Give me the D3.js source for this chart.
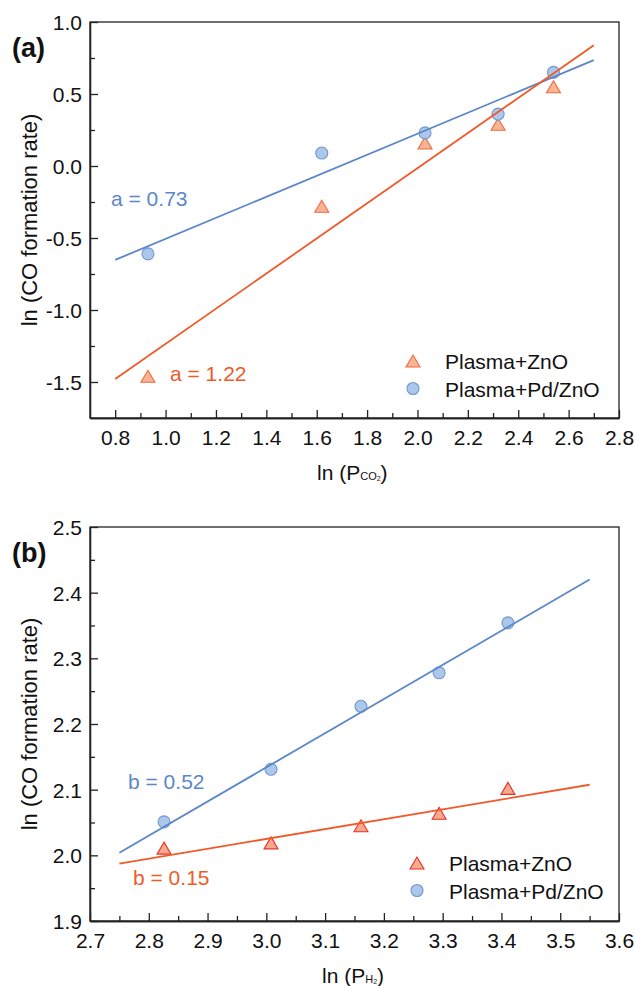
<!DOCTYPE html>
<html>
<head>
<meta charset="utf-8">
<script src="https://cdn.jsdelivr.net/npm/d3@7"></script>
<style>
  html, body { margin: 0; padding: 0; background: #fff; }
  svg { display: block; font-family: "Liberation Sans", Arial, sans-serif; }
</style>
</head>
<body>
<svg id="chart" width="635" height="986"></svg>
<script>
// ---- Panel (a): CO formation rate vs CO2 partial pressure ----
const aX = [0.93, 1.62, 2.03, 2.32, 2.54];
const aZnO = [-1.46, -0.28, 0.16, 0.29, 0.55];
const aPdZnO = [-0.61, 0.09, 0.23, 0.36, 0.65];
const aFitZnO = { slope: 1.22, intercept: -2.455, from: 0.8, to: 2.7 };
const aFitPdZnO = { slope: 0.73, intercept: -1.236, from: 0.8, to: 2.7 };
const aXTicks = [0.8, 1.0, 1.2, 1.4, 1.6, 1.8, 2.0, 2.2, 2.4, 2.6, 2.8];
const aYTicks = [-1.5, -1.0, -0.5, 0.0, 0.5, 1.0];

// ---- Panel (b): CO formation rate vs H2 partial pressure ----
const bX = [2.826, 3.008, 3.161, 3.294, 3.411];
const bZnO = [2.011, 2.019, 2.045, 2.064, 2.102];
const bPdZnO = [2.051, 2.131, 2.227, 2.278, 2.354];
const bFitZnO = { slope: 0.15, intercept: 1.575, from: 2.75, to: 3.55 };
const bFitPdZnO = { slope: 0.52, intercept: 0.574, from: 2.75, to: 3.55 };
const bXTicks = [2.7, 2.8, 2.9, 3.0, 3.1, 3.2, 3.3, 3.4, 3.5, 3.6];
const bYTicks = [1.9, 2.0, 2.1, 2.2, 2.3, 2.4, 2.5];

const seriesNames = ["Plasma+ZnO", "Plasma+Pd/ZnO"];

const BLUE_LINE = "#5b87c9";
const BLUE_FILL = "#adc7ea";
const BLUE_STROKE = "#6f97d2";
const ORANGE_LINE = "#f05a28";
const FONT = 21;

const svg = d3.select("#chart");
const fmt1 = d => d3.format(".1f")(d).replace("\u2212", "-");

function trianglePath(w, h) {
  return `M0,${-h / 2}L${w / 2},${h / 2}L${-w / 2},${h / 2}Z`;
}

function drawPanel(cfg) {
  const g = svg.append("g");
  const x = d3.scaleLinear().domain(cfg.xDomain).range([90, 619]);
  const y = d3.scaleLinear().domain(cfg.yDomain).range([cfg.bottom, cfg.top]);

  // frame
  g.append("rect")
    .attr("x", 90).attr("y", cfg.top)
    .attr("width", 529).attr("height", cfg.bottom - cfg.top)
    .attr("fill", "none").attr("stroke", "#222").attr("stroke-width", 1.3);

  // bottom axis: major ticks inward with labels, minor ticks between
  const xAxis = d3.axisBottom(x).tickValues(cfg.xTicks)
    .tickSizeInner(-8).tickSizeOuter(0).tickPadding(12)
    .tickFormat(fmt1);
  const gx = g.append("g").attr("transform", `translate(0,${cfg.bottom})`).call(xAxis);
  const xMinor = d3.axisBottom(x).tickValues(cfg.xMinor)
    .tickSizeInner(-5).tickSizeOuter(0).tickFormat("");
  const gxm = g.append("g").attr("transform", `translate(0,${cfg.bottom})`).call(xMinor);

  const yAxis = d3.axisLeft(y).tickValues(cfg.yTicks)
    .tickSizeInner(-8).tickSizeOuter(0).tickPadding(8)
    .tickFormat(fmt1);
  const gy = g.append("g").attr("transform", "translate(90,0)").call(yAxis);
  const yMinor = d3.axisLeft(y).tickValues(cfg.yMinor)
    .tickSizeInner(-5).tickSizeOuter(0).tickFormat("");
  const gym = g.append("g").attr("transform", "translate(90,0)").call(yMinor);

  [gx, gxm, gy, gym].forEach(a => {
    a.select(".domain").attr("stroke", "#222").attr("stroke-width", 1.3);
    a.selectAll(".tick line").attr("stroke", "#222").attr("stroke-width", 1.3);
    a.selectAll(".tick text")
      .attr("font-size", FONT).attr("fill", "#111")
      .attr("font-family", '"Liberation Sans", Arial, sans-serif');
  });
  gy.selectAll(".tick text").attr("dy", "0.36em");

  // markers: ZnO triangles, Pd/ZnO circles
  const pts = cfg.x.map((v, i) => ({ x: v, zno: cfg.zno[i], pd: cfg.pd[i] }));
  g.append("g").selectAll("path").data(pts).join("path")
    .attr("d", trianglePath(14, 12))
    .attr("transform", d => `translate(${x(d.x)},${y(d.zno)})`)
    .attr("fill", cfg.triFill).attr("stroke", cfg.triStroke).attr("stroke-width", 1.1);
  g.append("g").selectAll("circle").data(pts).join("circle")
    .attr("cx", d => x(d.x)).attr("cy", d => y(d.pd)).attr("r", 6)
    .attr("fill", BLUE_FILL).attr("stroke", BLUE_STROKE).attr("stroke-width", 1.1);

  // linear fits
  [[cfg.fitPd, BLUE_LINE], [cfg.fitZnO, ORANGE_LINE]].forEach(([fit, col]) => {
    const ends = [fit.from, fit.to];
    g.append("line")
      .attr("x1", x(ends[0])).attr("y1", y(fit.slope * ends[0] + fit.intercept))
      .attr("x2", x(ends[1])).attr("y2", y(fit.slope * ends[1] + fit.intercept))
      .attr("stroke", col).attr("stroke-width", 1.8);
  });

  // slope annotations
  g.append("text").attr("x", cfg.pdLabel[0]).attr("y", cfg.pdLabel[1])
    .attr("font-size", FONT).attr("fill", BLUE_LINE).text(cfg.pdLabel[2]);
  g.append("text").attr("x", cfg.znoLabel[0]).attr("y", cfg.znoLabel[1])
    .attr("font-size", FONT).attr("fill", ORANGE_LINE).text(cfg.znoLabel[2]);

  // legend
  const lg = g.append("g").attr("transform", `translate(${cfg.legend[0]},${cfg.legend[1]})`);
  lg.append("path").attr("d", trianglePath(14, 12))
    .attr("fill", cfg.triFill).attr("stroke", cfg.triStroke).attr("stroke-width", 1.1);
  lg.append("circle").attr("cx", 0).attr("cy", 27.5).attr("r", 6)
    .attr("fill", BLUE_FILL).attr("stroke", BLUE_STROKE).attr("stroke-width", 1.1);
  lg.selectAll("text").data(seriesNames).join("text")
    .attr("x", 32).attr("y", (d, i) => 8 + i * 27.5)
    .attr("font-size", FONT).attr("fill", "#111").text(d => d);

  // panel tag
  g.append("text").attr("x", 12).attr("y", cfg.tagY)
    .attr("font-size", 27).attr("font-weight", "bold").attr("fill", "#111")
    .text(cfg.tag);

  // y title
  g.append("text")
    .attr("transform", `translate(37,${(cfg.top + cfg.bottom) / 2}) rotate(-90)`)
    .attr("text-anchor", "middle").attr("font-size", 22).attr("fill", "#111")
    .text("ln (CO formation rate)");

  // x title with subscript
  const xt = g.append("text").attr("x", cfg.xTitle[0]).attr("y", cfg.xTitle[1])
    .attr("font-size", FONT).attr("fill", "#111");
  xt.append("tspan").text("ln (P");
  xt.append("tspan").attr("font-size", 11).text(cfg.xSub);
  xt.append("tspan").attr("font-size", 7).attr("dy", 1).text("2");
  xt.append("tspan").attr("dy", -1).text(")");
}

function minorBetween(ticks) {
  const out = [];
  for (let i = 0; i < ticks.length - 1; i++) out.push((ticks[i] + ticks[i + 1]) / 2);
  return out;
}

drawPanel({
  top: 22, bottom: 418,
  xDomain: [0.7, 2.8], yDomain: [-1.75, 1.0],
  xTicks: aXTicks, yTicks: aYTicks,
  xMinor: minorBetween(aXTicks),
  yMinor: [-1.25, -0.75, -0.25, 0.25, 0.75],
  x: aX, zno: aZnO, pd: aPdZnO,
  fitZnO: aFitZnO, fitPd: aFitPdZnO,
  triFill: "#f8b595", triStroke: "#f06a3c",
  pdLabel: [111, 206, "a = 0.73"],
  znoLabel: [170, 381, "a = 1.22"],
  legend: [413, 361],
  tag: "(a)", tagY: 57,
  xTitle: [317, 480], xSub: "CO"
});

drawPanel({
  top: 527, bottom: 921,
  xDomain: [2.7, 3.6], yDomain: [1.9, 2.5],
  xTicks: bXTicks, yTicks: bYTicks,
  xMinor: minorBetween(bXTicks),
  yMinor: minorBetween(bYTicks),
  x: bX, zno: bZnO, pd: bPdZnO,
  fitZnO: bFitZnO, fitPd: bFitPdZnO,
  triFill: "#f7a98c", triStroke: "#e8302c",
  pdLabel: [128, 789, "b = 0.52"],
  znoLabel: [133, 885, "b = 0.15"],
  legend: [417, 863],
  tag: "(b)", tagY: 562,
  xTitle: [322, 983], xSub: "H"
});
</script>
</body>
</html>
